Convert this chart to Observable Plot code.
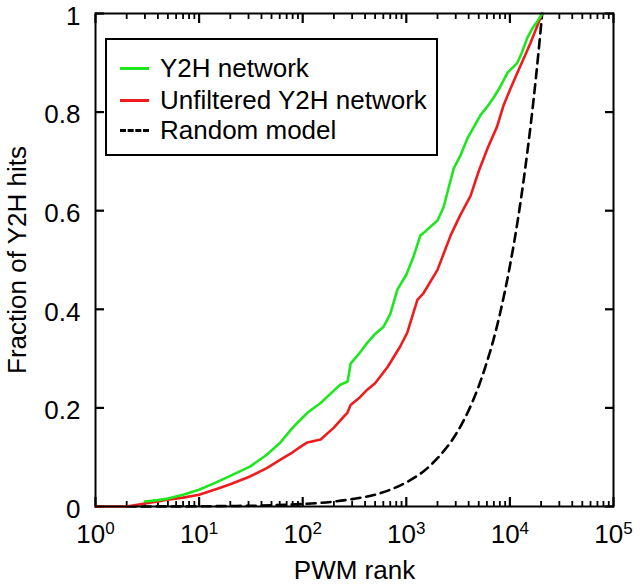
<!DOCTYPE html>
<html>
<head>
<meta charset="utf-8">
<script src="https://cdn.jsdelivr.net/npm/d3@7"></script>
<script src="https://cdn.jsdelivr.net/npm/@observablehq/plot@0.6"></script>
<style>
  html, body { margin: 0; padding: 0; background: #fff; }
  #wrap { position: relative; width: 640px; height: 585px; font-family: "Liberation Sans", Arial, Helvetica, sans-serif; }
  #legend { position: absolute; left: 105px; top: 38px; width: 329px; height: 114px; border: 2px solid #000; background: #fff; }
  .row { position: absolute; left: 0; height: 30px; display: flex; align-items: center; font-size: 26px; color: #000; white-space: nowrap; }
  .sample { width: 29px; margin-left: 13px; margin-right: 11px; height: 0; }
</style>
</head>
<body>
<div id="wrap"></div>
<script>
// ---- Data ----
const seriesNames = ["Y2H network", "Unfiltered Y2H network", "Random model"];

const y2hRank = [3, 4, 5, 7, 10, 15, 20, 31, 45, 61, 80, 95, 111, 149, 200, 230, 270, 280, 290, 350, 420, 500, 600, 700, 820, 1000, 1170, 1370, 1470, 2000, 2290, 2500, 2870, 3300, 3900, 4500, 5200, 6000, 6900, 8000, 9500, 11800, 13000, 14700, 16500, 18500, 20500];
const y2hFrac = [0.01, 0.013, 0.016, 0.024, 0.034, 0.05, 0.062, 0.081, 0.105, 0.13, 0.16, 0.176, 0.19, 0.21, 0.235, 0.247, 0.253, 0.27, 0.29, 0.31, 0.332, 0.35, 0.364, 0.39, 0.44, 0.47, 0.506, 0.55, 0.555, 0.58, 0.607, 0.638, 0.686, 0.71, 0.747, 0.77, 0.794, 0.81, 0.828, 0.85, 0.88, 0.90, 0.92, 0.95, 0.97, 0.985, 1.0];

const unfRank = [1, 2, 3, 4, 5, 7, 10, 15, 20, 31, 45, 61, 80, 95, 111, 149, 200, 248, 270, 290, 350, 420, 500, 660, 870, 1020, 1280, 1470, 2000, 2680, 3300, 4170, 5000, 6100, 7500, 8700, 10000, 11800, 14000, 15800, 18000, 20500];
const unfFrac = [0, 0, 0.006, 0.01, 0.014, 0.018, 0.024, 0.036, 0.045, 0.061, 0.078, 0.095, 0.11, 0.121, 0.13, 0.136, 0.16, 0.182, 0.19, 0.206, 0.22, 0.237, 0.25, 0.283, 0.324, 0.352, 0.419, 0.433, 0.48, 0.55, 0.59, 0.63, 0.68, 0.727, 0.77, 0.814, 0.845, 0.88, 0.915, 0.94, 0.97, 1.0];

const rndRank = [2, 5, 10, 20, 50, 100, 200, 300, 500, 700, 1000, 1500, 2000, 3000, 4000, 5000, 6000, 7000, 8000, 10000, 12000, 14000, 16000, 18000, 20500];
const rndFrac = [0.0001, 0.0002, 0.0005, 0.001, 0.0024, 0.005, 0.01, 0.015, 0.024, 0.034, 0.049, 0.073, 0.098, 0.146, 0.195, 0.244, 0.293, 0.341, 0.39, 0.488, 0.585, 0.683, 0.78, 0.878, 1.0];

const xMajorTicks = [1, 10, 100, 1000, 10000, 100000];
const yTicks = [0, 0.2, 0.4, 0.6, 0.8, 1];
const yTickLabels = ["0", "0.2", "0.4", "0.6", "0.8", "1"];
const colors = ["#1ee61e", "#ee1c1c", "#000000"];

const xMinorTicks = [];
for (let k = 0; k < 5; k++) for (let m = 2; m <= 9; m++) xMinorTicks.push(m * Math.pow(10, k));

const y2h = y2hRank.map((r, i) => ({rank: r, frac: y2hFrac[i]}));
const unf = unfRank.map((r, i) => ({rank: r, frac: unfFrac[i]}));
const rnd = rndRank.map((r, i) => ({rank: r, frac: rndFrac[i]}));

const font = {fontSize: 26, fontFamily: "Liberation Sans, Arial, Helvetica, sans-serif"};
const xMin = 1, xMax = 100000, yMin = 0, yMax = 1;

const chart = Plot.plot({
  width: 640,
  height: 585,
  marginLeft: 95,
  marginRight: 27,
  marginTop: 13,
  marginBottom: 79,
  style: {fontFamily: "Liberation Sans, Arial, Helvetica, sans-serif", fontSize: "26px", color: "#000", background: "#fff"},
  x: {type: "log", domain: [xMin, xMax], axis: null},
  y: {domain: [yMin, yMax], axis: null},
  marks: [
    // inward ticks on all four sides (minor & major)
    Plot.axisX(xMinorTicks, {anchor: "bottom", tickSize: 5, insetBottom: 5, tickFormat: () => "", label: null, stroke: "black", strokeWidth: 1.8}),
    Plot.axisX(xMinorTicks, {anchor: "top", tickSize: 5, insetTop: 5, tickFormat: () => "", label: null, stroke: "black", strokeWidth: 1.8}),
    Plot.axisX(xMajorTicks, {anchor: "bottom", tickSize: 9, insetBottom: 9, tickFormat: () => "", label: null, stroke: "black", strokeWidth: 2.2}),
    Plot.axisX(xMajorTicks, {anchor: "top", tickSize: 9, insetTop: 9, tickFormat: () => "", label: null, stroke: "black", strokeWidth: 2.2}),
    Plot.axisY(yTicks, {anchor: "left", tickSize: 9, insetLeft: 9, tickFormat: () => "", label: null, stroke: "black", strokeWidth: 2.2}),
    Plot.axisY(yTicks, {anchor: "right", tickSize: 9, insetRight: 9, tickFormat: () => "", label: null, stroke: "black", strokeWidth: 2.2}),
    // tick labels
    Plot.axisX(xMajorTicks, {anchor: "bottom", tickSize: 0, tickPadding: 18, tickFormat: d => "10^" + Math.round(Math.log10(d)), ...font, label: null}),
    Plot.axisY(yTicks, {anchor: "left", tickSize: 0, tickPadding: 15, dy: 3, tickFormat: d => yTickLabels[yTicks.indexOf(d)], ...font, label: null}),
    // axis titles
    Plot.text(["PWM rank"], {frameAnchor: "bottom", lineAnchor: "middle", textAnchor: "middle", dy: 64, ...font}),
    Plot.text(["Fraction of Y2H hits"], {frameAnchor: "left", lineAnchor: "middle", textAnchor: "middle", rotate: -90, dx: -78, ...font}),
    // series
    Plot.line(rnd, {x: "rank", y: "frac", stroke: colors[2], strokeWidth: 2.6, strokeDasharray: "9,6", curve: "monotone-x"}),
    Plot.line(unf, {x: "rank", y: "frac", stroke: colors[1], strokeWidth: 2.6}),
    Plot.line(y2h, {x: "rank", y: "frac", stroke: colors[0], strokeWidth: 2.6}),
    Plot.frame({stroke: "#000", strokeWidth: 2})
  ]
});

// superscript exponents on x tick labels
d3.select(chart).selectAll("text").each(function() {
  const t = this.textContent;
  const m = /^10\^(\d+)$/.exec(t);
  if (m) {
    const sel = d3.select(this);
    sel.text("10");
    sel.append("tspan").attr("dy", "-9px").attr("font-size", "17px").text(m[1]);
  }
});

const wrap = document.getElementById("wrap");
wrap.appendChild(chart);

// legend (inside plot area, as in the reference)
const legend = document.createElement("div");
legend.id = "legend";
const styles = ["3px solid " + colors[0], "3px solid " + colors[1], "3px dashed " + colors[2]];
const tops = [13, 45, 75];
seriesNames.forEach((name, i) => {
  const row = document.createElement("div");
  row.className = "row";
  row.style.top = tops[i] + "px";
  const s = document.createElement("div");
  s.className = "sample";
  s.style.borderTop = styles[i];
  const label = document.createElement("span");
  label.textContent = name;
  row.appendChild(s);
  row.appendChild(label);
  legend.appendChild(row);
});
wrap.appendChild(legend);
</script>
</body>
</html>
